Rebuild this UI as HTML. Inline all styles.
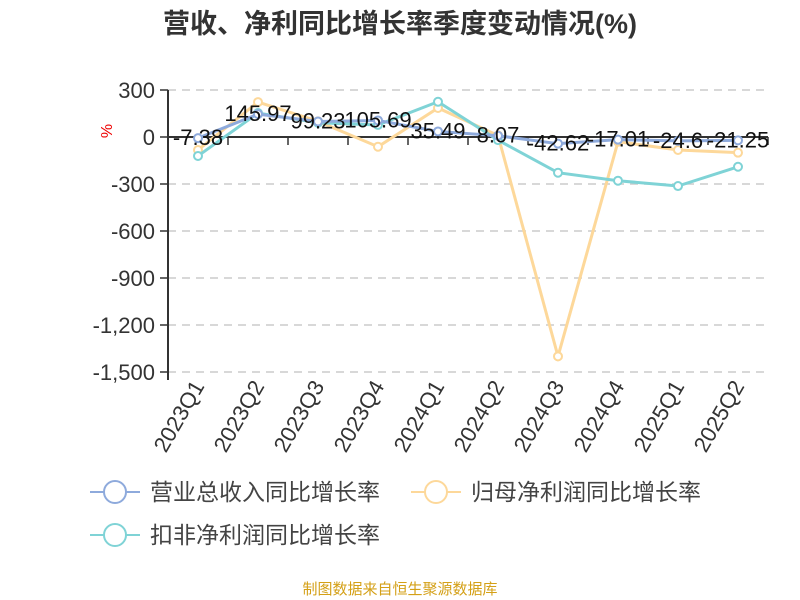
<!DOCTYPE html>
<html><head><meta charset="utf-8"><style>
body{margin:0;background:#fff;}
svg{display:block;font-family:"Liberation Sans","Noto Sans CJK SC",sans-serif;}
</style></head><body>
<svg id="chart" width="800" height="600">
<text x="400" y="33" text-anchor="middle" font-size="27" font-weight="bold" fill="#333">营收、净利同比增长率季度变动情况(%)</text>
<text x="0" y="0" transform="translate(112,131) rotate(-90)" text-anchor="middle" font-size="16" fill="#e00">%</text>
<g id="grid"></g><g id="axes"></g><g id="series"></g><g id="labels"></g>
<g id="legend"></g>
<text x="400" y="594" text-anchor="middle" font-size="15" fill="#d4a017">制图数据来自恒生聚源数据库</text>
</svg>
<script>
const categories=["2023Q1","2023Q2","2023Q3","2023Q4","2024Q1","2024Q2","2024Q3","2024Q4","2025Q1","2025Q2"];
const revenue=[-7.38,145.97,99.23,105.69,35.49,8.07,-42.62,-17.01,-24.6,-21.25];
const netProfit=[-83,223,100,-62,185,10,-1400,-30,-83,-100];
const deducted=[-121,153,91,77,225,-20,-228,-279,-313,-190];
const yTicks=[300,0,-300,-600,-900,-1200,-1500];
const yTickLabels=["300","0","-300","-600","-900","-1,200","-1,500"];
const NS="http://www.w3.org/2000/svg";
const x0=168,band=60,yTop=90,yBot=372,vMax=300,vMin=-1500;
const xs=i=>x0+band*(i+0.5);
const ys=v=>yTop+(vMax-v)/(vMax-vMin)*(yBot-yTop);
function mk(tag,attrs,parent){const e=document.createElementNS(NS,tag);for(const k in attrs)e.setAttribute(k,attrs[k]);parent.appendChild(e);return e;}
const grid=document.getElementById('grid'),axes=document.getElementById('axes'),ser=document.getElementById('series'),lab=document.getElementById('labels'),leg=document.getElementById('legend');
yTicks.forEach((v,i)=>{
 if(v!==0){const g=mk('line',{x1:x0,x2:768,y1:ys(v),y2:ys(v),stroke:'#ccc','stroke-dasharray':'8,6','stroke-width':1.5},grid);
 }
 mk('line',{x1:x0-8,x2:x0,y1:ys(v),y2:ys(v),stroke:'#333','stroke-width':1.5},axes);
 const t=mk('text',{x:x0-13,y:ys(v)+8,'text-anchor':'end','font-size':22,fill:'#333'},axes);t.textContent=yTickLabels[i];
 
});
const ya=mk('line',{x1:x0,x2:x0,y1:yTop,y2:yBot+8,stroke:'#333','stroke-width':2},axes);

const xa=mk('line',{x1:x0,x2:768,y1:ys(0),y2:ys(0),stroke:'#333','stroke-width':2},axes);

categories.forEach((c,i)=>{
 mk('line',{x1:x0+band*(i+1),x2:x0+band*(i+1),y1:ys(0),y2:ys(0)+8,stroke:'#333','stroke-width':1.5},axes);
 const t=mk('text',{x:0,y:0,transform:`translate(${xs(i)+7},${yBot+14}) rotate(-60)`,'text-anchor':'end','font-size':22,fill:'#333'},axes);
 t.textContent=c;
});
const seriesList=[[netProfit,'#fdd89a','net-profit'],[deducted,'#7fd3d6','deducted-profit'],[revenue,'#8eaadc','revenue']];
seriesList.forEach(([d,col,name])=>{
 const p=mk('polyline',{points:d.map((v,i)=>xs(i)+','+ys(v)).join(' '),fill:'none',stroke:col,'stroke-width':3},ser);
 
 d.forEach((v,i)=>{const c=mk('circle',{cx:xs(i),cy:ys(v),r:4,fill:'#fff',stroke:col,'stroke-width':2},ser);
  });
});
revenue.forEach((v,i)=>{const t=mk('text',{x:xs(i),y:ys(v)+7,'text-anchor':'middle','font-size':22,fill:'#111'},lab);
 t.textContent=String(v);});
const legItems=[["营业总收入同比增长率",'#8eaadc',90,492],["归母净利润同比增长率",'#fdd89a',411,492],["扣非净利润同比增长率",'#7fd3d6',90,535]];
legItems.forEach(([txt,col,x,y])=>{
 const g=mk('g',{},leg);
 mk('line',{x1:x,x2:x+50,y1:y,y2:y,stroke:col,'stroke-width':2},g);
 mk('circle',{cx:x+25,cy:y,r:11,fill:'#fff',stroke:col,'stroke-width':2},g);
 const t=mk('text',{x:x+60,y:y+8,'font-size':23,fill:'#444'},g);t.textContent=txt;
});
</script>
</body></html>
